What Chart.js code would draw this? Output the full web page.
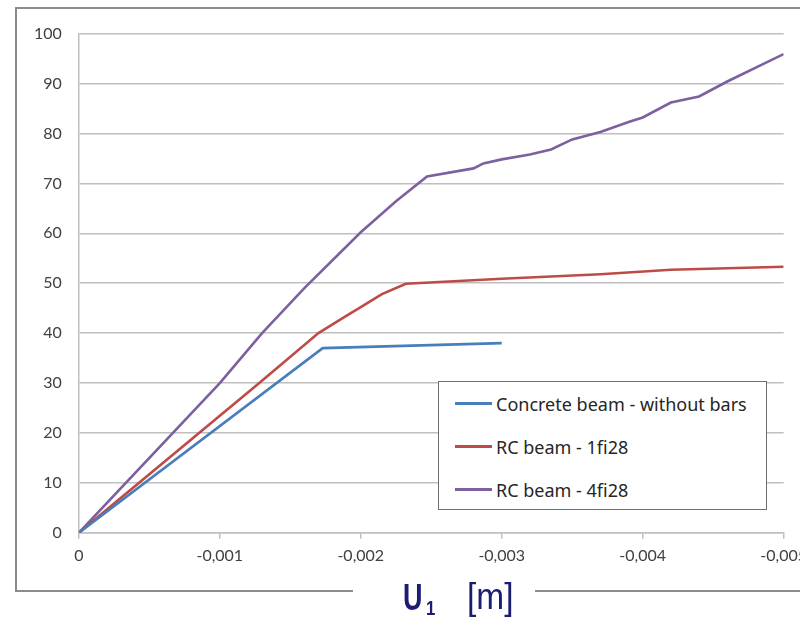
<!DOCTYPE html>
<html>
<head>
<meta charset="utf-8">
<script src="https://cdn.jsdelivr.net/npm/chart.js@4.4.1/dist/chart.umd.min.js"></script>
<style>
  html, body { margin: 0; padding: 0; background: #fff; overflow: hidden; }
  body { width: 800px; height: 620px; position: relative; font-family: Lato, 'Open Sans', sans-serif; }
  #frame { position: absolute; left: 15px; top: 7px; width: 820px; height: 581px;
           border: 2px solid #8c8c8c; border-right: none; }
  #wrap { position: absolute; left: 17px; top: 7px; width: 797px; height: 577px; }
  #titleBox { position: absolute; left: 353px; top: 578px; width: 182px; height: 42px; background: #fff;
              color: #1c1c70; font-family: Arial, 'Liberation Sans', sans-serif; }
  #titleBox span { position: absolute; white-space: nowrap; transform-origin: left top; }
  #tU { left: 50px; top: 0px; font-size: 36px; font-weight: bold; line-height: 40px; transform: scaleX(0.75); }
  #t1 { left: 73px; top: 18px; font-size: 21px; font-weight: bold; line-height: 24px; transform: scaleX(0.8); }
  #tM { left: 114px; top: -1px; font-size: 36px; line-height: 40px; transform: scaleX(0.93); }
  #legend { position: absolute; left: 438px; top: 381px; width: 329px; height: 129px; background: #fff;
            border: 1px solid #707070; box-sizing: border-box; padding-top: 0px; }
  .item { display: flex; align-items: center; height: 43px; font-family: 'Noto Sans', sans-serif; font-size: 18px;
          color: #262626; font-variant-ligatures: none; }
  .swatch { width: 37px; height: 3px; margin-left: 16px; margin-right: 4px; }
</style>
</head>
<body>
<div id="frame"></div>
<div id="wrap"><canvas id="chart"></canvas></div>
<div id="legend"></div>
<div id="titleBox"><span id="tU">U</span><span id="t1">1</span><span id="tM">[m]</span></div>
<script>
// displacement U1 [m] vs load
const seriesNames  = ['Concrete beam - without bars', 'RC beam - 1fi28', 'RC beam - 4fi28'];
const seriesColors = ['#4a7ebb', '#be4b48', '#7d60a0'];

const concreteX = [0, -0.00173, -0.0030];
const concreteY = [0, 37.0, 38.0];

const rc1X = [0, -0.00128, -0.0017, -0.0019, -0.0020, -0.00215, -0.00232, -0.0030, -0.0037, -0.0042, -0.0050];
const rc1Y = [0, 30.0, 40.0, 43.5, 45.2, 47.8, 49.9, 50.9, 51.8, 52.7, 53.3];

const rc4X = [0, -0.0010, -0.0013, -0.0016, -0.0020, -0.00225, -0.00247, -0.0028, -0.00287, -0.0030, -0.0032, -0.00335, -0.0035, -0.0037, -0.0039, -0.0040, -0.0042, -0.0044, -0.0046, -0.0050];
const rc4Y = [0, 30.0, 40.0, 49.0, 60.2, 66.4, 71.4, 73.0, 74.0, 74.8, 75.8, 76.8, 78.8, 80.3, 82.3, 83.2, 86.2, 87.4, 90.4, 95.9];

const xTicks = [0, -0.001, -0.002, -0.003, -0.004, -0.005];
const yTicks = [0, 10, 20, 30, 40, 50, 60, 70, 80, 90, 100];

function pts(xs, ys) {
  return xs.map(function (x, i) { return { x: x, y: ys[i] }; });
}

const seriesData = [pts(concreteX, concreteY), pts(rc1X, rc1Y), pts(rc4X, rc4Y)];

// html legend
var legend = document.getElementById('legend');
seriesNames.forEach(function (name, i) {
  var row = document.createElement('div');
  row.className = 'item';
  row.innerHTML = '<span class="swatch" style="background:' + seriesColors[i] + '"></span><span>' + name + '</span>';
  legend.appendChild(row);
});

new Chart(document.getElementById('chart'), {
  type: 'scatter',
  data: {
    datasets: seriesData.map(function (d, i) {
      return {
        label: seriesNames[i],
        data: d,
        showLine: true,
        borderColor: seriesColors[i],
        backgroundColor: seriesColors[i],
        borderWidth: 2.6,
        pointRadius: 0,
        tension: 0,
      };
    }),
  },
  options: {
    responsive: true,
    maintainAspectRatio: false,
    animation: false,
    layout: { padding: { top: 12, left: 0, right: 0, bottom: 12 } },
    plugins: { legend: { display: false }, tooltip: { enabled: false } },
    scales: {
      x: {
        type: 'linear',
        reverse: true,
        min: -0.005,
        max: 0,
        afterBuildTicks: function (axis) { axis.ticks = xTicks.map(function (v) { return { value: v }; }); },
        grid: { drawOnChartArea: false, color: '#bfbfbf', tickLength: 6, lineWidth: 1.5 },
        border: { color: '#bfbfbf', width: 1.5 },
        ticks: {
          color: '#404040',
          font: { family: 'Lato', size: 16 },
          padding: 7,
          maxRotation: 0,
          callback: function (v) { return v === 0 ? '0' : v.toFixed(3).replace('.', ','); },
        },
      },
      y: {
        min: 0,
        max: 100,
        afterBuildTicks: function (axis) { axis.ticks = yTicks.map(function (v) { return { value: v }; }); },
        grid: { color: '#bfbfbf', lineWidth: 1.5, tickLength: 0 },
        border: { color: '#bfbfbf', width: 1.5 },
        ticks: { color: '#404040', font: { family: 'Lato', size: 16 }, padding: 17 },
      },
    },
  },
});
</script>
</body>
</html>
